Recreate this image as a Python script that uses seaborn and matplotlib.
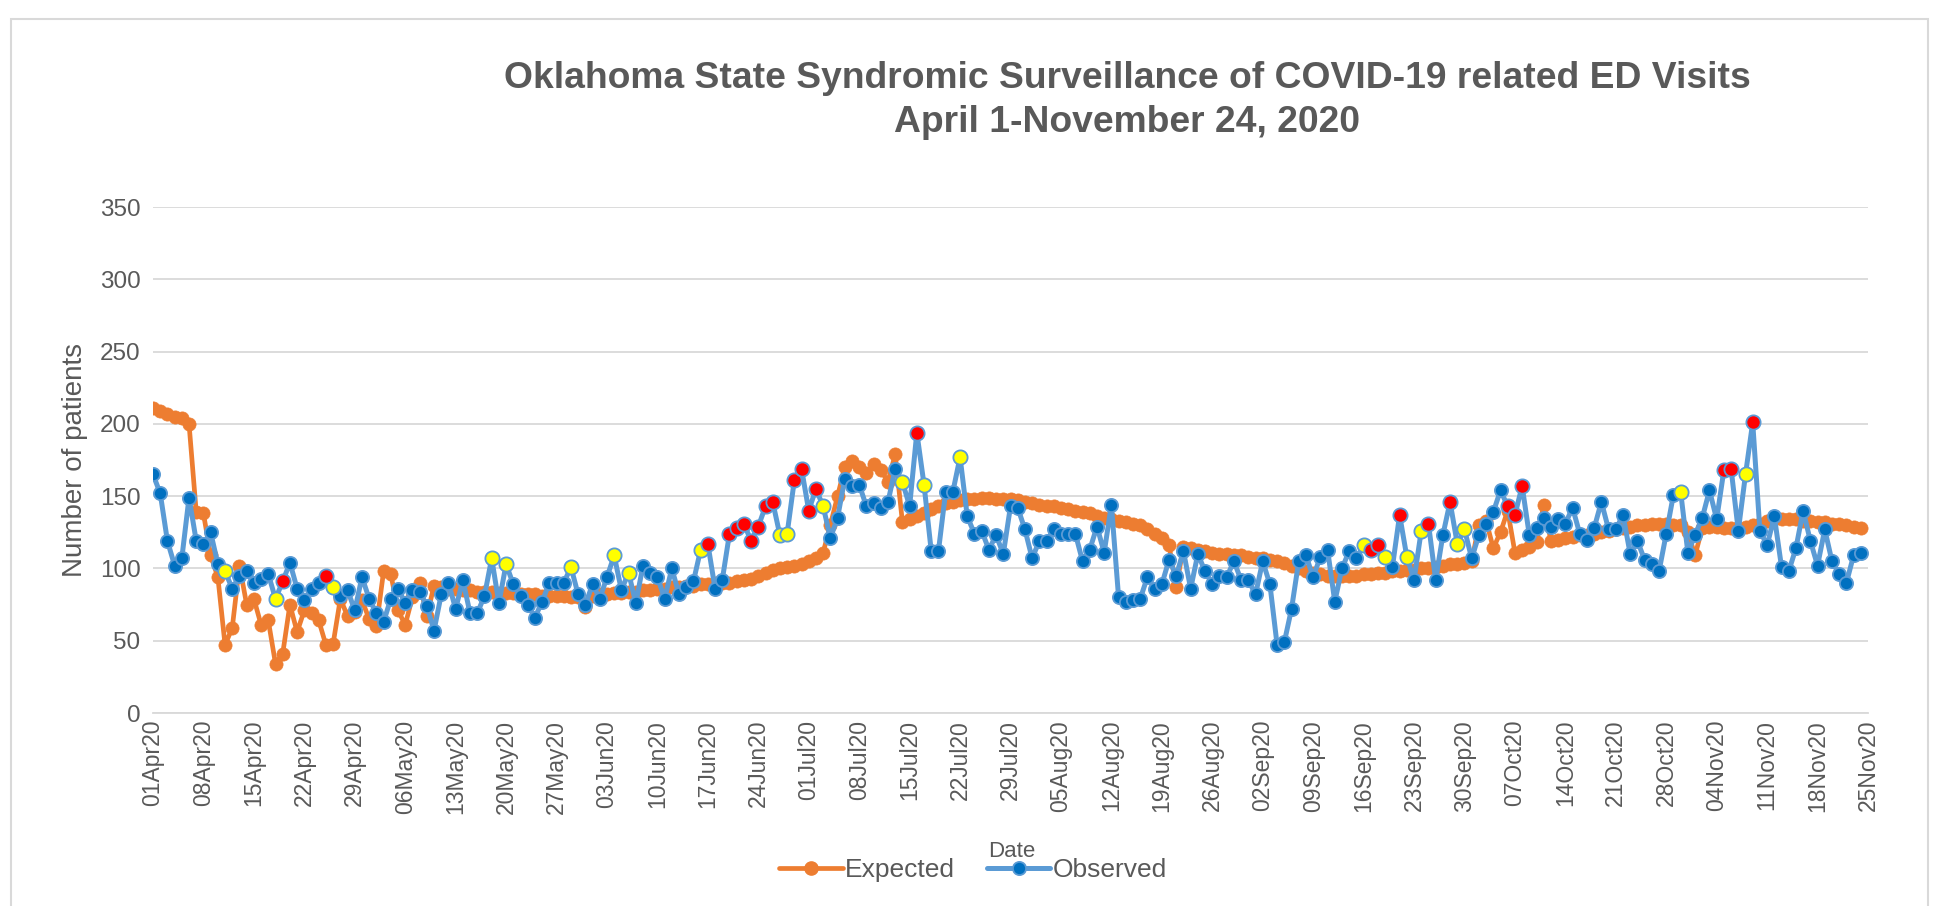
import pandas as pd
import matplotlib
matplotlib.use("Agg")
import matplotlib.pyplot as plt
import matplotlib.dates as mdates
from matplotlib.lines import Line2D
from matplotlib.patches import Rectangle
import seaborn as sns

# ---- data ----
start_date = "2020-04-01"

observed = [
    165, 152, 119, 102, 107, 149, 119, 117, 125, 103,
    98, 86, 95, 98, 90, 93, 96, 79, 91, 104,
    86, 78, 86, 90, 95, 87, 81, 85, 71, 94,
    79, 69, 63, 79, 86, 76, 85, 84, 74, 57,
    82, 90, 72, 92, 69, 69, 81, 107, 76, 103,
    89, 81, 75, 66, 77, 90, 90, 90, 101, 82,
    75, 89, 79, 94, 109, 85, 97, 76, 102, 97,
    94, 79, 100, 82, 87, 91, 113, 117, 86, 92,
    124, 128, 131, 119, 129, 143, 146, 123, 124, 161,
    169, 140, 155, 143, 121, 135, 162, 157, 158, 143,
    145, 142, 146, 169, 160, 143, 194, 158, 112, 112,
    153, 153, 177, 136, 124, 126, 113, 123, 110, 143,
    142, 127, 107, 119, 119, 127, 124, 124, 124, 105,
    113, 129, 111, 144, 80, 77, 78, 79, 94, 86,
    89, 106, 95, 112, 86, 110, 98, 89, 95, 94,
    105, 92, 92, 82, 105, 89, 47, 49, 72, 105,
    109, 94, 108, 113, 77, 100, 112, 107, 116, 113,
    116, 108, 101, 137, 108, 92, 126, 131, 92, 123,
    146, 117, 127, 107, 123, 131, 139, 154, 143, 137,
    157, 123, 128, 135, 129, 134, 131, 142, 124, 120,
    128, 146, 127, 127, 137, 110, 119, 106, 103, 98,
    124, 151, 153, 111, 123, 135, 154, 134, 168, 169,
    126, 165, 201, 126, 116, 136, 101, 98, 114, 140,
    119, 102, 127, 105, 96, 90, 109, 111,
]

expected = [
    211, 209, 207, 205, 204, 200, 139, 138, 109, 94,
    47, 59, 102, 75, 79, 61, 64, 34, 41, 75,
    56, 71, 69, 64, 47, 48, 79, 67, 70, 78,
    65, 60, 98, 96, 71, 61, 80, 90, 67, 88,
    87, 86, 86, 85, 85, 84, 84, 84, 83, 83,
    83, 82, 82, 82, 81, 81, 81, 81, 80, 80,
    73, 81, 82, 82, 83, 83, 84, 84, 85, 85,
    86, 86, 87, 87, 88, 88, 89, 89, 90, 90,
    90, 91, 92, 93, 95, 97, 99, 100, 101, 102,
    103, 105, 107, 111, 130, 150, 170, 174, 170, 166,
    172, 168, 160, 179, 132, 134, 136, 138, 141, 143,
    145, 146, 147, 148, 148, 149, 149, 148, 148, 148,
    147, 146, 145, 144, 143, 143, 142, 141, 140, 139,
    138, 136, 135, 134, 133, 132, 131, 130, 127, 124,
    121, 116, 87, 115, 114, 113, 112, 111, 110, 110,
    109, 109, 108, 107, 107, 106, 105, 104, 102, 100,
    98, 97, 96, 95, 95, 95, 95, 95, 96, 96,
    97, 97, 98, 98, 99, 99, 100, 100, 101, 102,
    103, 103, 104, 105, 130, 133, 114, 125, 140, 111,
    113, 115, 118, 144, 119, 120, 121, 122, 123, 123,
    124, 125, 126, 127, 128, 129, 130, 130, 131, 131,
    131, 130, 130, 125, 109, 128, 129, 129, 128, 128,
    128, 129, 130, 131, 133, 134, 134, 134, 134, 133,
    133, 132, 132, 131, 131, 130, 129, 128,
]

# days flagged in the original (index from 01Apr20)
yellow_days = [10, 17, 25, 47, 49, 58, 64, 66, 76, 87, 88, 93, 104, 107, 112,
               168, 171, 174, 176, 181, 182, 212, 221]
red_days = [18, 24, 77, 80, 81, 82, 83, 84, 85, 86, 89, 90, 91, 92, 106,
            169, 170, 173, 177, 180, 188, 189, 190, 218, 219, 222]

dates = pd.date_range(start_date, periods=len(observed), freq="D")
df = pd.DataFrame({"date": dates, "Observed": observed, "Expected": expected})
yellow_df = df.iloc[yellow_days]
red_df = df.iloc[red_days]

# ---- style ----
sns.set_style("white")
plt.rcParams["font.family"] = ["Liberation Sans", "DejaVu Sans"]
grey_text = "#595959"
grid_col = "#D9D9D9"
orange = "#ED7D31"
light_blue = "#5B9BD5"
dark_blue = "#0070C0"

fig = plt.figure(figsize=(19.35, 9.06), dpi=100)
ax = fig.add_axes([153 / 1935, 1 - 713 / 906, (1868 - 153) / 1935, (713 - 207) / 906])

sns.lineplot(data=df, x="date", y="Expected", ax=ax, color=orange, linewidth=3.4,
             marker="o", markersize=9.5, markerfacecolor=orange,
             markeredgecolor=orange, markeredgewidth=0.5, zorder=3)
sns.lineplot(data=df, x="date", y="Observed", ax=ax, color=light_blue, linewidth=3.6,
             marker="o", markersize=9.5, markerfacecolor=dark_blue,
             markeredgecolor=light_blue, markeredgewidth=1.3, zorder=4)
sns.scatterplot(data=yellow_df, x="date", y="Observed", ax=ax, color="#FFFF00",
                edgecolor=light_blue, linewidth=1.3, s=105, zorder=5)
sns.scatterplot(data=red_df, x="date", y="Observed", ax=ax, color="#FF0000",
                edgecolor=light_blue, linewidth=1.3, s=105, zorder=5)

# axes
ax.set_ylim(0, 350)
ax.set_yticks(range(0, 351, 50))
ax.set_xlim(pd.Timestamp("2020-04-01"), pd.Timestamp("2020-11-25"))
ax.set_xticks(pd.date_range("2020-04-01", "2020-11-25", freq="7D"))
ax.xaxis.set_major_formatter(mdates.DateFormatter("%d%b%y"))
ax.grid(axis="y", color=grid_col, linewidth=1.3)
ax.grid(axis="x", visible=False)
for side in ["top", "right", "left"]:
    ax.spines[side].set_visible(False)
ax.spines["bottom"].set_color(grid_col)
ax.spines["bottom"].set_linewidth(1.3)
ax.tick_params(axis="y", length=0, pad=9, labelsize=17.5, labelcolor=grey_text)
ax.tick_params(axis="x", length=0, pad=5, labelsize=16.5, labelcolor=grey_text,
               labelrotation=90)

ax.set_ylabel("Number of patients", fontsize=20, color=grey_text)
ax.yaxis.set_label_coords(-0.038, 0.5)
ax.set_xlabel("Date", fontsize=16, color=grey_text)
ax.xaxis.set_label_coords(0.501, -0.252)
if ax.get_legend() is not None:
    ax.get_legend().remove()

# title
fig.text(0.5825, 1 - 79 / 906, "Oklahoma State Syndromic Surveillance of COVID-19 related ED Visits",
         ha="center", va="center", fontsize=26.8, fontweight="bold", color=grey_text)
fig.text(0.5825, 1 - 122 / 906, "April 1-November 24, 2020",
         ha="center", va="center", fontsize=26.8, fontweight="bold", color=grey_text)

# legend
handles = [
    Line2D([], [], color=orange, linewidth=3.4, marker="o", markersize=9.5,
           markerfacecolor=orange, markeredgecolor=orange),
    Line2D([], [], color=light_blue, linewidth=3.6, marker="o", markersize=9.5,
           markerfacecolor=dark_blue, markeredgecolor=light_blue, markeredgewidth=1.3),
]
fig.legend(handles, ["Expected", "Observed"], loc="center", ncol=2,
           bbox_to_anchor=(0.503, 1 - 870 / 906), frameon=False, fontsize=19,
           labelcolor=grey_text, handlelength=2.4, handletextpad=0.1, columnspacing=1.2)

# outer chart border
fig.patches.append(Rectangle((11 / 1935, -0.05), (1928 - 11) / 1935, 1.05 - 19 / 906,
                             transform=fig.transFigure, fill=False,
                             edgecolor=grid_col, linewidth=1.5))

fig.savefig("out.png", dpi=100)
